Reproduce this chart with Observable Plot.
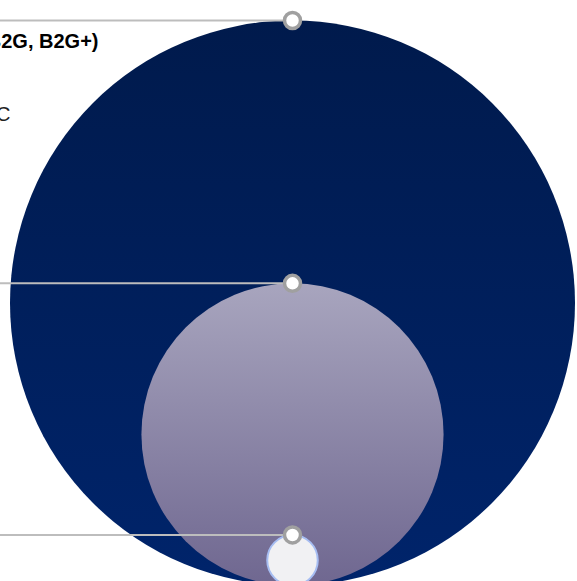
<!DOCTYPE html>
<html><head><meta charset="utf-8">
<script src="https://cdn.jsdelivr.net/npm/d3@7"></script>
<script src="https://cdn.jsdelivr.net/npm/@observablehq/plot@0.6"></script>
<style>html,body{margin:0;padding:0;background:#fff;overflow:hidden}svg{display:block}</style>
</head><body><div id="chart"></div>
<script>
// ---- data ----
const segments = ["TAM", "SAM", "SOM"];
const values = [100, 28.6, 0.8];
const titles = ["Total Addressable Market (B2C, B2B, B2G, B2G+)", "", ""];
const subtitles = ["Worldwide digital services, B2B + B2C", "", ""];
const fills = ["url(#gTAM)", "url(#gSAM)", "#f1f1f3"];
const strokes = ["none", "none", "#a6bdf2"];

// ---- layout ----
const W = 577, H = 581;
const cxPx = 292, basePx = 585, k = 28.25; // pixels per sqrt-unit
const xDomain = [-cxPx / k, (W - cxPx) / k];
const yDomain = [(basePx - H) / k, basePx / k];

const rows = segments.map((s, i) => ({
  segment: s, value: values[i], root: Math.sqrt(values[i]),
  title: titles[i], sub: subtitles[i], fill: fills[i], stroke: strokes[i]
}));
const labelled = rows.filter(d => d.title);

const svg = Plot.plot({
  width: W, height: H,
  margin: 0,
  x: {domain: xDomain, axis: null},
  y: {domain: yDomain, axis: null},
  r: {type: "sqrt", domain: [0, 100], range: [0, 10 * k]},
  color: {type: "identity"},
  style: {fontFamily: "'Liberation Sans', Arial, sans-serif", background: "#fff"},
  marks: [
    Plot.dot(rows, {x: 0, y: d => d.root, r: "value", fill: d => d.fill, stroke: d => d.stroke, strokeWidth: 2}),
    Plot.ruleY(rows, {y: d => 2 * d.root, x1: xDomain[0], x2: 0, stroke: "#bdbdbd", strokeWidth: 2}),
    Plot.dot(rows, {x: 0, y: d => 2 * d.root, r: 8, fill: "#fff", stroke: "#a0a0a0", strokeWidth: 3.5, ariaLabel: "markers"}),
    Plot.text(labelled, {x: 0, y: d => 2 * d.root, text: "title", dx: -194, dy: 21, textAnchor: "end", fontSize: 20, fontWeight: "bold", fill: "#000"}),
    Plot.text(labelled, {x: 0, y: d => 2 * d.root, text: "sub", dx: -282, dy: 94, textAnchor: "end", fontSize: 20, fill: "#222"})
  ]
});

const defs = d3.select(svg).insert("defs", ":first-child");
function grad(id, c0, c1) {
  const g = defs.append("linearGradient").attr("id", id).attr("x1", 0).attr("y1", 0).attr("x2", 0).attr("y2", 1);
  g.append("stop").attr("offset", "0%").attr("stop-color", c0);
  g.append("stop").attr("offset", "100%").attr("stop-color", c1);
}
grad("gTAM", "#001a4c", "#00246b");
grad("gSAM", "#a8a5be", "#6f6790");
d3.select(svg).selectAll('g[aria-label="markers"]').style("filter", "drop-shadow(1px 2px 2px rgba(0,0,0,0.35))");

document.getElementById("chart").appendChild(svg);
</script>
</body></html>
